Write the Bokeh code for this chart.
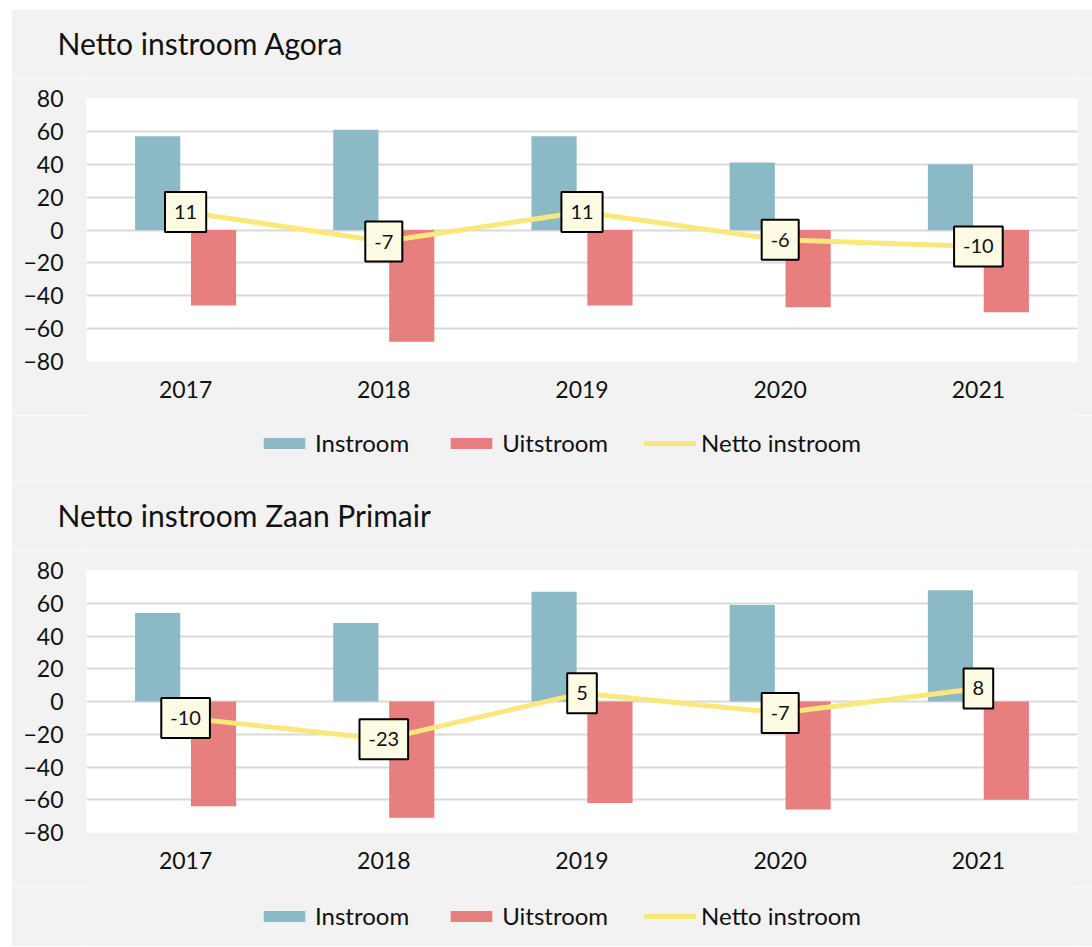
from bokeh.plotting import figure
from bokeh.models import (ColumnDataSource, FactorRange, Range1d, FixedTicker, Legend,
                          LegendItem)
from bokeh.transform import dodge
from bokeh.layouts import column
from bokeh.embed import file_html
from bokeh.resources import INLINE
from bokeh.core.properties import value

# ---- data ----
years = ["2017", "2018", "2019", "2020", "2021"]
agora_in = [57, 61, 57, 41, 40]
agora_out = [-46, -68, -46, -47, -50]
agora_net = [11, -7, 11, -6, -10]
zaan_in = [54, 48, 67, 59, 68]
zaan_out = [-64, -71, -62, -66, -60]
zaan_net = [-10, -23, 5, -7, 8]
y_ticks = [-80, -60, -40, -20, 0, 20, 40, 60, 80]
titles = ["Netto instroom Agora", "Netto instroom Zaan Primair"]
series_names = ["Instroom", "Uitstroom", "Netto instroom"]

# ---- style ----
FONT = "Lato"
BG = "#f2f2f2"
C_IN = "#8bbac6"
C_OUT = "#e67f7d"
C_NET = "#fbe87c"
TXT = "#111111"
W = 1081


def bare_fig(height, margin, top=0, title=None):
    kw = dict(title=title) if title else {}
    f = figure(width=W, height=height, x_range=Range1d(0, 991), y_range=Range1d(0, height - top),
               min_border_left=75, min_border_right=15, min_border_top=top, min_border_bottom=0,
               x_axis_location=None, y_axis_location=None,
               output_backend="svg", toolbar_location=None,
               background_fill_color=BG, border_fill_color=BG,
               outline_line_color=None, margin=margin, **kw)
    f.xgrid.visible = False
    f.ygrid.visible = False
    return f


def header(title, margin):
    h = bare_fig(69, margin, top=59, title=title)
    h.title.text_font = FONT
    h.title.text_font_size = "30px"
    h.title.text_font_style = "normal"
    h.title.text_color = TXT
    h.title.align = "left"
    h.title.offset = -29
    h.title.standoff = 16
    return h


def chart(vin, vout, vnet, frame_h):
    src = ColumnDataSource(dict(year=years, instroom=vin, uitstroom=vout, netto=vnet,
                                label=[str(v) for v in vnet]))
    p = figure(x_range=FactorRange(*years), y_range=Range1d(y_ticks[0], y_ticks[-1]),
               frame_width=991, frame_height=frame_h,
               min_border_left=75, min_border_right=15, min_border_top=20,
               min_border_bottom=54,
               output_backend="svg", toolbar_location=None,
               background_fill_color="white", border_fill_color=BG,
               outline_line_color=None, margin=(0, 0, 0, 11))

    p.vbar(x=dodge("year", -0.141, range=p.x_range), top="instroom", bottom=0,
           width=0.228, source=src, fill_color=C_IN, line_color=None)
    p.vbar(x=dodge("year", 0.141, range=p.x_range), top=0, bottom="uitstroom",
           width=0.228, source=src, fill_color=C_OUT, line_color=None)
    p.line("year", "netto", source=src, line_color=C_NET, line_width=5,
           line_join="round", line_cap="round")

    p.text(x="year", y="netto", text="label", source=src,
           text_align="center", text_baseline="middle",
           text_font=value(FONT), text_font_size="20px", text_color=TXT,
           background_fill_color="#fdfbe3", border_line_color="black",
           border_line_width=2, padding=(9, 13))

    p.yaxis.ticker = FixedTicker(ticks=y_ticks)
    p.ygrid.ticker = FixedTicker(ticks=y_ticks)
    p.axis.axis_line_color = None
    p.axis.major_tick_line_color = None
    p.axis.minor_tick_line_color = None
    p.axis.major_tick_out = 0
    p.axis.major_label_text_font = FONT
    p.axis.major_label_text_font_size = "23px"
    p.axis.major_label_text_color = TXT
    p.yaxis.major_label_standoff = 23
    p.xaxis.major_label_standoff = 19
    p.xgrid.grid_line_color = None
    p.ygrid.grid_line_color = "#d9d9d9"
    p.ygrid.grid_line_width = 2
    return p


def legend_fig(height, y_loc):
    f = bare_fig(height, (0, 0, 0, 11))
    # legend-only swatches, kept outside the visible ranges
    r_in = f.vbar(x=[-500], top=[-500], width=1, fill_color=C_IN, line_color=None)
    r_out = f.vbar(x=[-500], top=[-500], width=1, fill_color=C_OUT, line_color=None)
    r_net = f.line(x=[-500, -499], y=[-500, -500], line_color=C_NET, line_width=5,
                   line_cap="round")
    legend = Legend(items=[LegendItem(label=series_names[0], renderers=[r_in]),
                           LegendItem(label=series_names[1], renderers=[r_out]),
                           LegendItem(label=series_names[2], renderers=[r_net])],
                    orientation="horizontal", location=(172, y_loc),
                    glyph_width=52, glyph_height=14, label_standoff=5, spacing=36,
                    padding=0, margin=0, border_line_color=None,
                    background_fill_alpha=0, label_text_font=FONT,
                    label_text_font_size="24px", label_text_color=TXT)
    f.add_layout(legend)
    return f


h1 = header(titles[0], (9, 0, 0, 11))
c1 = chart(agora_in, agora_out, agora_net, 263)
l1 = legend_fig(66, 24)
h2 = header(titles[1], (0, 0, 0, 11))
c2 = chart(zaan_in, zaan_out, zaan_net, 262)
l2 = legend_fig(60, 16)

layout = column(h1, c1, l1, h2, c2, l2, spacing=0)
open("out.html", "w").write(file_html(layout, INLINE))
